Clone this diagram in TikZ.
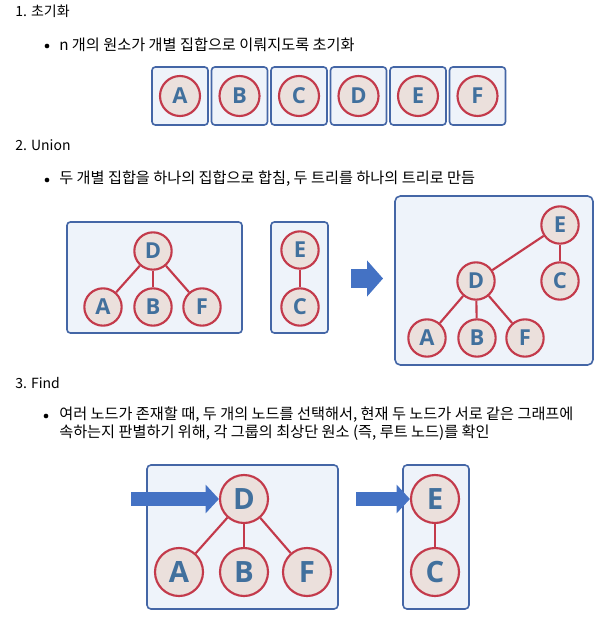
\documentclass[tikz,border=0pt]{standalone}
\usepackage{fontspec}
\setmainfont{Noto Sans CJK KR}
\newfontfamily\lfont{Open Sans}
\usetikzlibrary{arrows.meta}
\definecolor{boxfill}{HTML}{EEF3FA}
\definecolor{boxline}{HTML}{4466A6}
\definecolor{cfill}{HTML}{EBE0DC}
\definecolor{cline}{HTML}{C33A4B}
\definecolor{letter}{HTML}{41709D}
\definecolor{arrowc}{HTML}{4472C4}
\begin{document}
\begin{tikzpicture}[x=0.75pt,y=-0.75pt,
  grp/.style={draw=boxline, fill=boxfill, line width=1.2pt, rounded corners=2.5pt},
  nd/.style={circle, draw=cline, fill=cfill, line width=1.6pt, inner sep=0pt, text=letter},
  ndA/.style={nd, minimum size=30pt, font=\lfont\bfseries\fontsize{16.5}{16.5}\selectfont},
  ndB/.style={nd, minimum size=28pt, font=\lfont\bfseries\fontsize{16.5}{16.5}\selectfont},
  ndC/.style={nd, minimum size=36pt, font=\lfont\bfseries\fontsize{22}{22}\selectfont},
  edge/.style={draw=cline, line width=1.6pt},
  txt/.style={anchor=west, inner sep=0pt, font=\fontsize{10.5}{12}\selectfont, text=black},
  btxt/.style={txt, font=\fontsize{11.4}{13}\selectfont},
  bul/.style={circle, fill=black, inner sep=0pt, minimum size=3.5pt},
  blk/.style={draw=arrowc, line cap=butt}
]
\useasboundingbox[fill=white] (0,0) rectangle (608,624);

% ---------- 1. init ----------
\node[txt] (t1) at (15,11) {1. 초기화};
\node[bul] (b1) at (47,46) {};
\node[btxt] (t1b) at (59,45) {n 개의 원소가 개별 집합으로 이뤄지도록 초기화};

\foreach \l [count=\i from 0] in {A,B,C,D,E,F}{
  \draw[grp] ({152+59.5*\i},67) rectangle ({208+59.5*\i},125);
  \node[ndA] (i\l) at ({180+59.5*\i},96) {\l};
}

% ---------- 2. union ----------
\node[txt] (t2) at (15,145) {2. Union};
\node[bul] (b2) at (47,180) {};
\node[btxt] (t2b) at (59,179) {두 개별 집합을 하나의 집합으로 합침, 두 트리를 하나의 트리로 만듬};

\draw[grp] (67,222) rectangle (242,333);
\node[ndB] (uD) at (153,251) {D};
\node[ndB] (uA) at (103,307) {A};
\node[ndB] (uB) at (153,307) {B};
\node[ndB] (uF) at (202,307) {F};
\draw[edge] (uD) -- (uA);
\draw[edge] (uD) -- (uB);
\draw[edge] (uD) -- (uF);

\draw[grp] (271,222) rectangle (328,333);
\node[ndB] (uE) at (300,250) {E};
\node[ndB] (uC) at (300,307) {C};
\draw[edge] (uE) -- (uC);

\coordinate (ua1) at (351,278.5);
\coordinate (ua2) at (383,278.5);
\draw[blk, line width=14.25pt, -{Triangle[length=12pt,width=26.5pt]}] (ua1) -- (ua2);

\draw[grp, rounded corners=4pt] (395,196) rectangle (593,365);
\node[ndB] (mE) at (560,225) {E};
\node[ndB] (mC) at (560,281) {C};
\node[ndB] (mD) at (476,281) {D};
\node[ndB] (mA) at (427,338) {A};
\node[ndB] (mB) at (477,338) {B};
\node[ndB] (mF) at (525,338) {F};
\draw[edge] (mE) -- (mC);
\draw[edge] (mE) -- (mD);
\draw[edge] (mD) -- (mA);
\draw[edge] (mD) -- (mB);
\draw[edge] (mD) -- (mF);

% ---------- 3. find ----------
\node[txt] (t3) at (15,383) {3. Find};
\node[bul] (b3) at (46,416) {};
\node[btxt] (t3a) at (59,415) {여러 노드가 존재할 때, 두 개의 노드를 선택해서, 현재 두 노드가 서로 같은 그래프에};
\node[btxt] (t3b) at (59,433) {속하는지 판별하기 위해, 각 그룹의 최상단 원소 (즉, 루트 노드)를 확인};

\draw[grp, rounded corners=3pt] (147,465) rectangle (338,609);
\node[ndC] (fD) at (244,499) {D};
\node[ndC] (fA) at (179,572) {A};
\node[ndC] (fB) at (244,572) {B};
\node[ndC] (fF) at (307,572) {F};
\draw[edge] (fD) -- (fA);
\draw[edge] (fD) -- (fB);
\draw[edge] (fD) -- (fF);

\draw[grp, rounded corners=3pt] (403,465) rectangle (469,609);
\node[ndC] (fE) at (435,499) {E};
\node[ndC] (fC) at (435,572) {C};
\draw[edge] (fE) -- (fC);

\coordinate (fa1) at (131,499);
\coordinate (fa2) at (356,499);
\draw[blk, line width=10.5pt, -{Triangle[length=10pt,width=21pt]}] (fa1) -- (fD.west);
\draw[blk, line width=10.5pt, -{Triangle[length=10pt,width=21pt]}] (fa2) -- (fE.west);
\end{tikzpicture}
\end{document}
